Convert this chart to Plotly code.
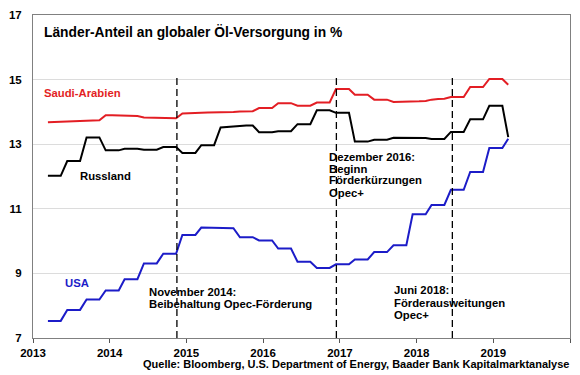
import plotly.graph_objects as go

# monthly dates (Mar 2013 .. Mar 2019)
dates = [f"{2013 + (m // 12)}-{(m % 12) + 1:02d}-13" for m in range(2, 75)]

usa = [7.53, 7.53, 7.53, 7.87, 7.87, 7.87, 8.19, 8.19, 8.19, 8.47, 8.47, 8.47,
       8.82, 8.82, 8.82, 9.31, 9.31, 9.31, 9.61, 9.61, 9.61, 10.19, 10.19, 10.19,
       10.42, 10.42, 10.42, 10.40, 10.40, 10.40, 10.12, 10.12, 10.12, 10.02, 10.02, 10.02,
       9.77, 9.77, 9.77, 9.36, 9.36, 9.36, 9.17, 9.17, 9.17, 9.28, 9.28, 9.28,
       9.43, 9.43, 9.43, 9.66, 9.66, 9.66, 9.87, 9.87, 9.87, 10.83, 10.83, 10.83,
       11.12, 11.12, 11.12, 11.59, 11.59, 11.59, 12.14, 12.14, 12.14, 12.88, 12.88, 12.88,
       13.17]

saudi = [13.68, 13.68, 13.69, 13.70, 13.71, 13.71, 13.72, 13.73, 13.74, 13.90, 13.90, 13.89,
         13.88, 13.87, 13.87, 13.83, 13.82, 13.82, 13.80, 13.79, 13.80, 13.95, 13.95, 13.96,
         13.97, 13.98, 13.98, 13.99, 14.00, 14.00, 14.01, 14.02, 14.02, 14.12, 14.12, 14.12,
         14.27, 14.27, 14.27, 14.19, 14.19, 14.19, 14.29, 14.29, 14.29, 14.71, 14.71, 14.71,
         14.53, 14.53, 14.53, 14.38, 14.38, 14.38, 14.31, 14.31, 14.31, 14.33, 14.33, 14.34,
         14.38, 14.40, 14.41, 14.46, 14.46, 14.46, 14.77, 14.77, 14.77, 15.02, 15.02, 15.02,
         14.84]

russia = [12.02, 12.02, 12.02, 12.48, 12.48, 12.48, 13.21, 13.21, 13.21, 12.81, 12.81, 12.81,
          12.86, 12.86, 12.86, 12.83, 12.83, 12.83, 12.91, 12.91, 12.91, 12.73, 12.73, 12.73,
          12.97, 12.97, 12.97, 13.52, 13.54, 13.56, 13.58, 13.58, 13.58, 13.37, 13.37, 13.37,
          13.40, 13.40, 13.40, 13.62, 13.62, 13.62, 14.05, 14.05, 14.05, 13.97, 13.97, 13.97,
          13.08, 13.08, 13.08, 13.14, 13.14, 13.14, 13.20, 13.20, 13.20, 13.19, 13.19, 13.19,
          13.16, 13.16, 13.16, 13.38, 13.38, 13.38, 13.77, 13.77, 13.77, 14.19, 14.19, 14.19,
          13.22]

event_dates = ["2014-11-17", "2016-12-15", "2018-06-20"]
y_ticks = [7, 9, 11, 13, 15, 17]

FONT = "Arial, Liberation Sans, sans-serif"
RED = "#e31e24"
BLUE = "#1c1cc8"

fig = go.Figure()
fig.add_trace(go.Scatter(x=dates, y=saudi, mode="lines", line=dict(color=RED, width=2)))
fig.add_trace(go.Scatter(x=dates, y=russia, mode="lines", line=dict(color="black", width=2)))
fig.add_trace(go.Scatter(x=dates, y=usa, mode="lines", line=dict(color=BLUE, width=2)))

for d in event_dates:
    fig.add_shape(type="line", xref="x", yref="y", x0=d, x1=d, y0=7, y1=15.1,
                  line=dict(color="black", width=1.3, dash="7px,4px"))

L, R, T, B = 27, 571, 10, 338
def px(xp):
    return (xp - L) / (R - L)
def py(yp):
    return (B - yp) / (B - T)

def txt(x, y, s, size=11.3, color="black"):
    fig.add_annotation(xref="paper", yref="paper", x=px(x), y=py(y), text=f"<b>{s}</b>",
                       showarrow=False, xanchor="left", yanchor="middle",
                       font=dict(family=FONT, size=size, color=color))

txt(36, 27, "Länder-Anteil an globaler Öl-Versorgung in %", size=13.8)
txt(36, 89, "Saudi-Arabien", color=RED)
txt(73, 173, "Russland")
txt(57, 282, "USA", color=BLUE)
txt(142, 291, "November 2014:")
txt(142, 303, "Beibehaltung Opec-Förderung")
txt(325, 154, "Dezember 2016:")
txt(325, 166, "Beginn")
txt(325, 178, "Förderkürzungen")
txt(325, 190.5, "Opec+")
txt(391, 289, "Juni 2018:")
txt(391, 302, "Förderausweitungen")
txt(391, 315, "Opec+")

fig.add_annotation(xref="paper", yref="paper", x=px(572), y=py(364), text="<b>Quelle: Bloomberg, U.S. Department of Energy, Baader Bank Kapitalmarktanalyse</b>",
                   showarrow=False, xanchor="right", yanchor="middle",
                   font=dict(family=FONT, size=11, color="black"))

fig.update_layout(
    width=580, height=375,
    margin=dict(l=L, r=580 - R, t=T, b=375 - B),
    paper_bgcolor="white", plot_bgcolor="white",
    showlegend=False,
    font=dict(family=FONT, size=11.5, color="black"),
)
fig.update_xaxes(type="date", range=["2013-01-01", "2020-01-01"], dtick="M12", tick0="2013-01-01",
                 tickformat="<b>%Y</b>", showgrid=False, ticks="outside", ticklen=4, tickcolor="#555",
                 showline=True, linecolor="#808080", linewidth=1, mirror=True, zeroline=False,
                 tickfont=dict(family=FONT, size=11.5, color="black"))
fig.update_yaxes(range=[7, 17], tickvals=y_ticks, ticktext=[f"<b>{v}</b>" for v in y_ticks],
                 showgrid=True, gridcolor="#dcdcdc", gridwidth=1, ticks="",
                 showline=True, linecolor="#808080", linewidth=1, mirror=True, zeroline=False,
                 ticklabelstandoff=8, tickfont=dict(family=FONT, size=11.5, color="black"))

fig.write_html("out.html", config={"displayModeBar": False},
               post_script="document.body.style.margin='0';document.body.style.overflow='hidden';")
